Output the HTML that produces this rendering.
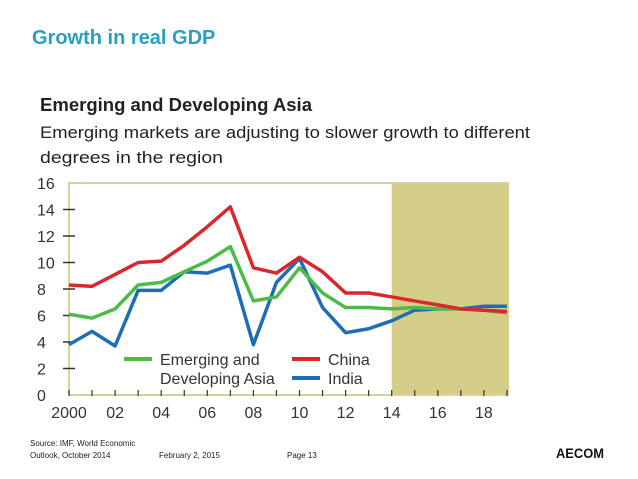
<!DOCTYPE html>
<html><head><meta charset="utf-8"><style>
body{margin:0;background:#fff;}
svg{display:block;font-family:"Liberation Sans",sans-serif;}
</style></head><body>
<svg id="c" width="638" height="479" viewBox="0 0 638 479">
<text x="32" y="44" font-size="20" font-weight="bold" fill="#2a9fc4">Growth in real GDP</text>
<text x="40" y="111" font-size="18" font-weight="bold" fill="#222" textLength="272" lengthAdjust="spacingAndGlyphs">Emerging and Developing Asia</text>
<text x="40" y="138" font-size="17" fill="#222" textLength="490" lengthAdjust="spacingAndGlyphs">Emerging markets are adjusting to slower growth to different</text>
<text x="40" y="163" font-size="17" fill="#222" textLength="183" lengthAdjust="spacingAndGlyphs">degrees in the region</text>
<g id="plot"></g>
<text x="30" y="446" font-size="8" fill="#222">Source:  IMF, World Economic</text>
<text x="30" y="458" font-size="8" fill="#222">Outlook, October 2014</text>
<text x="159" y="458" font-size="8" fill="#222">February 2, 2015</text>
<text x="287" y="458" font-size="8" fill="#222">Page 13</text>
<text x="556" y="458" font-size="14" font-weight="bold" fill="#111" textLength="48" lengthAdjust="spacingAndGlyphs">AECOM</text>
</svg>
<script>
const years=[2000,2001,2002,2003,2004,2005,2006,2007,2008,2009,2010,2011,2012,2013,2014,2015,2016,2017,2018,2019];
const china=[8.3,8.2,9.1,10.0,10.1,11.3,12.7,14.2,9.6,9.2,10.4,9.3,7.7,7.7,7.4,7.1,6.8,6.5,6.4,6.3];
const asia=[6.1,5.8,6.5,8.3,8.5,9.3,10.1,11.2,7.1,7.4,9.6,7.7,6.6,6.6,6.5,6.6,6.5,6.5,6.4,6.2];
const india=[3.8,4.8,3.7,7.9,7.9,9.3,9.2,9.8,3.8,8.5,10.3,6.6,4.7,5.0,5.6,6.4,6.5,6.5,6.7,6.7];
const yTicks=[0,2,4,6,8,10,12,14,16];
const xTicks=["2000","02","04","06","08","10","12","14","16","18"];
const forecastStart=2014;
const NS="http://www.w3.org/2000/svg";
const g=document.getElementById('plot');
const X=v=>69+(v-2000)*23.05, Y=v=>395-v*13.25;
function mk(t,a,p){const e=document.createElementNS(NS,t);for(const k in a)e.setAttribute(k,a[k]);(p||g).appendChild(e);return e;}
let e=mk('rect',{x:X(forecastStart),y:Y(16),width:X(2019)+2-X(forecastStart),height:Y(0)-Y(16),fill:'#d5ce88'});


e=mk('polyline',{points:`${X(2000)},${Y(0)} ${X(2000)},${Y(16)} ${X(2019)+2},${Y(16)}`,fill:'none',stroke:'#d8d29a','stroke-width':2});


e=mk('line',{x1:X(2000),x2:X(2019)+2,y1:Y(0),y2:Y(0),stroke:'#d8d29a','stroke-width':2});


yTicks.forEach(t=>{
 e=mk('text',{x:37,y:Y(t)+6,'font-size':16,fill:'#333'});e.textContent=t;
 
 
 if(t>0&&t<16){const l=mk('line',{x1:X(2000)-6,x2:X(2000)+6,y1:Y(t),y2:Y(t),stroke:'#333','stroke-width':1.5});
 
 }
});
years.forEach(y=>{const l=mk('line',{x1:X(y),x2:X(y),y1:Y(0)-5,y2:Y(0)+1,stroke:'#333','stroke-width':1.2});
 
 });
xTicks.forEach((t,i)=>{e=mk('text',{x:X(2000+2*i),y:418,'font-size':16,fill:'#333','text-anchor':'middle'});e.textContent=t;
 
 });
function series(d,c,n){const p=mk('polyline',{points:d.map((v,i)=>X(years[i])+','+Y(v)).join(' '),fill:'none',stroke:c,'stroke-width':3.5,'stroke-linejoin':'round'});
 
 }
series(india,'#1f6db3','india-line');
series(asia,'#4cbb47','emerging-asia-line');
series(china,'#d9272e','china-line');
function leg(x,y,c,txt,n){const l=mk('line',{x1:x,x2:x+28,y1:y,y2:y,stroke:c,'stroke-width':4});
 
 
 txt.forEach((s,i)=>{const t=mk('text',{x:x+36,y:y+6+i*19,'font-size':16,fill:'#333'});t.textContent=s;
 
 });}
leg(124,359,'#4cbb47',['Emerging and','Developing Asia'],'legend-emerging-asia');
leg(292,359,'#d9272e',['China'],'legend-china');
leg(292,378,'#1f6db3',['India'],'legend-india');
</script>
</body></html>
